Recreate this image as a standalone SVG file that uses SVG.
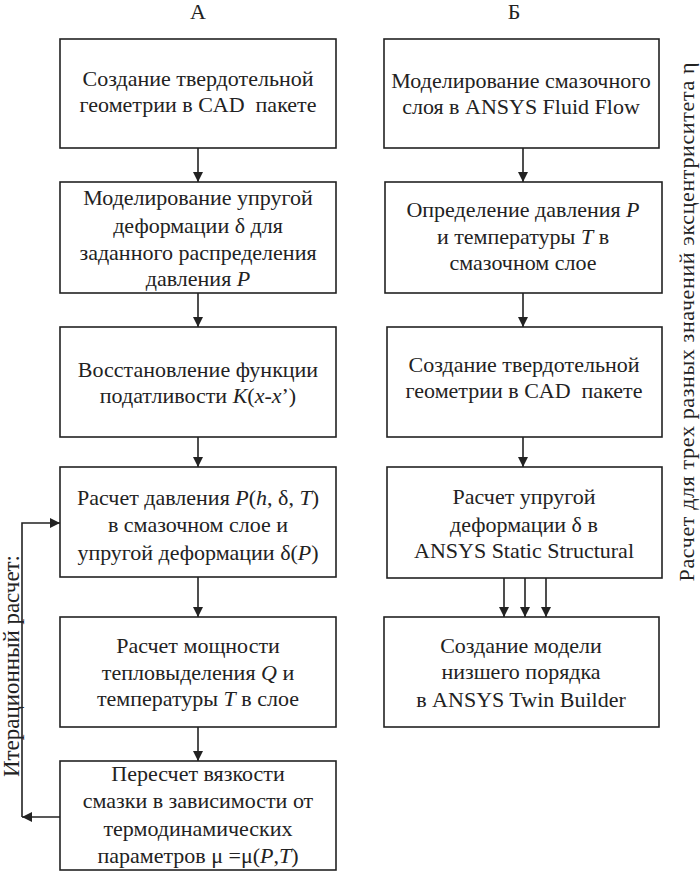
<svg xmlns="http://www.w3.org/2000/svg" width="700" height="873" viewBox="0 0 700 873">
<defs>
<style>
.box{fill:#fff;stroke:#222;stroke-width:1.6}
.ln{fill:none;stroke:#222;stroke-width:1.6}
.i{font-style:italic}
</style>
<marker id="ah" viewBox="0 0 10 10" refX="10" refY="5" markerWidth="10" markerHeight="10" markerUnits="userSpaceOnUse" orient="auto">
<path d="M0,0 L10,5 L0,10 z" fill="#222"/>
</marker>
</defs>
<rect width="700" height="873" fill="#fff"/>
<g style="font-family:'Liberation Serif',serif;font-size:22px" text-anchor="middle" fill="#222">
<text x="198" y="19">А</text>
<text x="514" y="19">Б</text>

<g id="a1"><rect class="box" x="60" y="39" width="276" height="109"/>
<g style="font-family:'Liberation Serif',serif">
<text x="198" y="86">Создание твердотельной</text>
<text x="198" y="112" xml:space="preserve">геометрии в CAD  пакете</text></g></g>

<g id="a2"><rect class="box" x="60" y="182" width="276" height="111"/>
<g style="font-family:'Liberation Serif',serif">
<text x="198" y="205">Моделирование упругой</text>
<text x="198" y="233">деформации δ для</text>
<text x="198" y="260">заданного распределения</text>
<text x="198" y="286">давления <tspan class="i">P</tspan></text></g></g>

<g id="a3"><rect class="box" x="60" y="327" width="276" height="110"/>
<g style="font-family:'Liberation Serif',serif">
<text x="198" y="377">Восстановление функции</text>
<text x="198" y="403">податливости <tspan class="i">K</tspan>(<tspan class="i">x</tspan>-<tspan class="i">x</tspan>’)</text></g></g>

<g id="a4"><rect class="box" x="60" y="467" width="276" height="110"/>
<g style="font-family:'Liberation Serif',serif">
<text x="198" y="505">Расчет давления <tspan class="i">P</tspan>(<tspan class="i">h</tspan>, δ, <tspan class="i">T</tspan>)</text>
<text x="198" y="532">в смазочном слое и</text>
<text x="198" y="560">упругой деформации δ(<tspan class="i">P</tspan>)</text></g></g>

<g id="a5"><rect class="box" x="60" y="617" width="276" height="110"/>
<g style="font-family:'Liberation Serif',serif">
<text x="198" y="653">Расчет мощности</text>
<text x="198" y="680">тепловыделения <tspan class="i">Q</tspan> и</text>
<text x="198" y="706">температуры <tspan class="i">T</tspan> в слое</text></g></g>

<g id="a6"><rect class="box" x="60" y="761" width="276" height="109"/>
<g style="font-family:'Liberation Serif',serif">
<text x="198" y="781">Пересчет вязкости</text>
<text x="198" y="808">смазки в зависимости от</text>
<text x="198" y="836">термодинамических</text>
<text x="198" y="863">параметров μ =μ(<tspan class="i">P</tspan>,<tspan class="i">T</tspan>)</text></g></g>

<g id="b1"><rect class="box" x="384" y="39" width="275" height="109"/>
<g style="font-family:'Liberation Serif',serif">
<text x="521" y="88">Моделирование смазочного</text>
<text x="521" y="114">слоя в ANSYS Fluid Flow</text></g></g>

<g id="b2"><rect class="box" x="385" y="182" width="277" height="111"/>
<g style="font-family:'Liberation Serif',serif">
<text x="523" y="217">Определение давления <tspan class="i">P</tspan></text>
<text x="523" y="244">и температуры <tspan class="i">T</tspan> в</text>
<text x="523" y="270">смазочном слое</text></g></g>

<g id="b3"><rect class="box" x="387" y="327" width="275" height="110"/>
<g style="font-family:'Liberation Serif',serif">
<text x="524" y="372">Создание твердотельной</text>
<text x="524" y="398" xml:space="preserve">геометрии в CAD  пакете</text></g></g>

<g id="b4"><rect class="box" x="387" y="467" width="275" height="111"/>
<g style="font-family:'Liberation Serif',serif">
<text x="524" y="504">Расчет упругой</text>
<text x="524" y="532">деформации δ в</text>
<text x="524" y="558">ANSYS Static Structural</text></g></g>

<g id="b5"><rect class="box" x="384" y="617" width="275" height="110"/>
<g style="font-family:'Liberation Serif',serif">
<text x="521" y="653">Создание модели</text>
<text x="521" y="679">низшего порядка</text>
<text x="521" y="707">в ANSYS Twin Builder</text></g></g>

<g id="labels">
<text x="0" y="0" font-size="23" transform="translate(19,666) rotate(-90)" textLength="222" lengthAdjust="spacing">Итерационный расчет:</text>
<text x="0" y="0" transform="translate(694,322) rotate(-90)" textLength="519" lengthAdjust="spacing">Расчет для трех разных значений эксцентриситета η</text>
</g>
</g>

<g id="connectors">
<line class="ln" x1="198" y1="148" x2="198" y2="182" marker-end="url(#ah)"/>
<line class="ln" x1="198" y1="293" x2="198" y2="327" marker-end="url(#ah)"/>
<line class="ln" x1="198" y1="437" x2="198" y2="467" marker-end="url(#ah)"/>
<line class="ln" x1="198" y1="577" x2="198" y2="617" marker-end="url(#ah)"/>
<line class="ln" x1="198" y1="727" x2="198" y2="761" marker-end="url(#ah)"/>
<line class="ln" x1="60" y1="817" x2="22" y2="817" marker-end="url(#ah)"/>
<polyline class="ln" points="22,817 22,523 60,523" marker-end="url(#ah)"/>
<line class="ln" x1="523" y1="148" x2="523" y2="182" marker-end="url(#ah)"/>
<line class="ln" x1="523" y1="293" x2="523" y2="327" marker-end="url(#ah)"/>
<line class="ln" x1="523" y1="437" x2="523" y2="467" marker-end="url(#ah)"/>
<line class="ln" x1="504" y1="578" x2="504" y2="617" marker-end="url(#ah)"/>
<line class="ln" x1="525" y1="578" x2="525" y2="617" marker-end="url(#ah)"/>
<line class="ln" x1="546" y1="578" x2="546" y2="617" marker-end="url(#ah)"/>
</g>
</svg>
